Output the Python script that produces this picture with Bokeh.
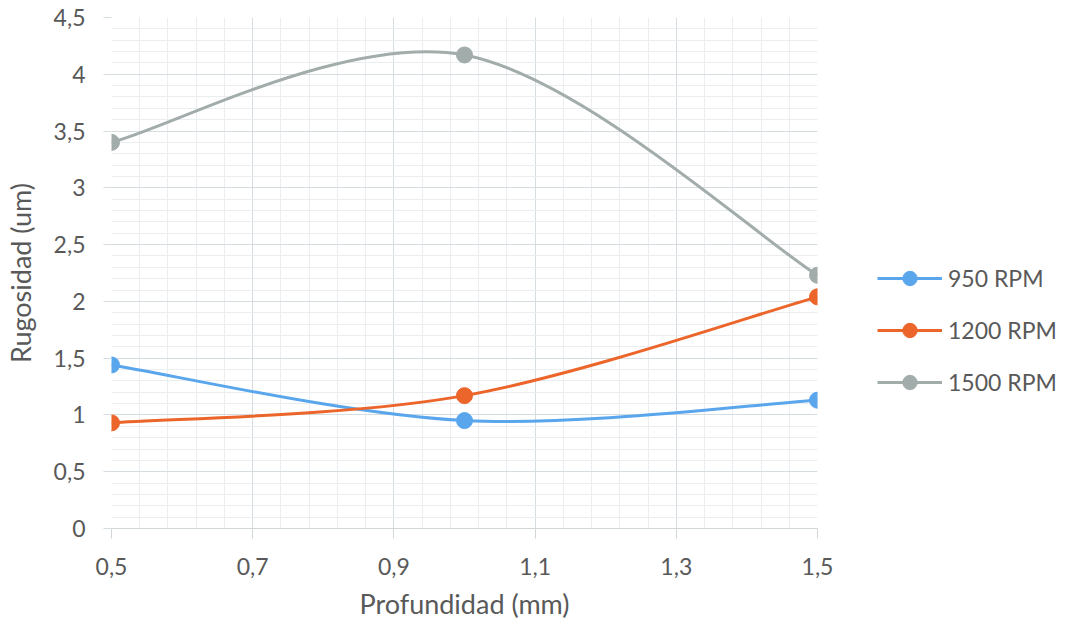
from bokeh.plotting import figure
from bokeh.models import (FixedTicker, SingleIntervalTicker, CustomJSTickFormatter,
                          Legend, LegendItem, ColumnDataSource, Range1d)
from bokeh.embed import file_html
from bokeh.resources import INLINE
import numpy as np

# ---- data ----
profundidad = [0.5, 1.0, 1.5]
series_names = ["950 RPM", "1200 RPM", "1500 RPM"]
rpm_950 = [1.44, 0.95, 1.13]
rpm_1200 = [0.93, 1.17, 2.04]
rpm_1500 = [3.40, 4.17, 2.23]
colors = ["#5aa6ec", "#ec652a", "#a2adab"]
x_ticks = [0.5, 0.7, 0.9, 1.1, 1.3, 1.5]

FONT = "Lato"
TXT = "#595959"

p = figure(frame_width=706, frame_height=511, output_backend="svg", toolbar_location=None,
           x_range=Range1d(0.5, 1.5), y_range=Range1d(0, 4.5),
           min_border_left=111, min_border_right=10, min_border_top=17,
           min_border_bottom=100)
p.outline_line_color = None
p.background_fill_color = "white"

# ticks / grid
minor_x = [t for t in np.round(np.arange(0.5, 1.5001, 0.04), 2) if t not in x_ticks]
p.xaxis.ticker = FixedTicker(ticks=x_ticks, minor_ticks=minor_x)
p.yaxis.ticker = SingleIntervalTicker(interval=0.5, num_minor_ticks=5)
fmt = CustomJSTickFormatter(code="return (Math.round(tick*10)/10).toString().replace('.', ',');")
p.xaxis.formatter = fmt
p.yaxis.formatter = fmt

for g in (p.xgrid, p.ygrid):
    g.grid_line_color = "#d5dde1"
    g.grid_line_width = 1
    g.minor_grid_line_color = "#eaeef1"
    g.minor_grid_line_width = 1

for ax in (p.xaxis, p.yaxis):
    ax.major_label_text_font = FONT
    ax.major_label_text_font_size = "23px"
    ax.major_label_text_color = TXT
    ax.axis_label_text_font = FONT
    ax.axis_label_text_font_size = "27px"
    ax.axis_label_text_color = TXT
    ax.axis_label_text_font_style = "normal"
    ax.minor_tick_line_color = None
    ax.major_tick_in = 0

p.xaxis.axis_label = "Profundidad (mm)"
p.xaxis.axis_line_color = "#d0d5d8"
p.xaxis.major_tick_line_color = "#d0d5d8"
p.xaxis.major_tick_out = 10
p.xaxis.major_label_standoff = 19
p.xaxis.axis_label_standoff = 9

p.yaxis.axis_label = "Rugosidad (um)"
p.yaxis.axis_line_color = None
p.yaxis.major_tick_line_color = "#d5dde1"
p.yaxis.major_tick_out = 8
p.yaxis.major_label_standoff = 18
p.yaxis.axis_label_standoff = 14

# smoothed lines (Catmull-Rom style bezier control points computed from the data)
items = []
for name, ys, col in zip(series_names, [rpm_950, rpm_1200, rpm_1500], colors):
    xs = np.array(profundidad)
    yv = np.array(ys)
    n = len(xs)
    x0, y0, x1, y1, cx0, cy0, cx1, cy1 = [], [], [], [], [], [], [], []
    for i in range(n - 1):
        ip = max(i - 1, 0)
        inn = min(i + 2, n - 1)
        x0.append(xs[i]); y0.append(yv[i])
        x1.append(xs[i + 1]); y1.append(yv[i + 1])
        cx0.append(xs[i] + (xs[i + 1] - xs[ip]) / 6)
        cy0.append(yv[i] + (yv[i + 1] - yv[ip]) / 6)
        cx1.append(xs[i + 1] - (xs[inn] - xs[i]) / 6)
        cy1.append(yv[i + 1] - (yv[inn] - yv[i]) / 6)
    src = ColumnDataSource(dict(x0=x0, y0=y0, x1=x1, y1=y1,
                                cx0=cx0, cy0=cy0, cx1=cx1, cy1=cy1))
    rb = p.bezier(x0="x0", y0="y0", x1="x1", y1="y1", cx0="cx0", cy0="cy0",
                  cx1="cx1", cy1="cy1", source=src, line_color=col, line_width=3)
    rs = p.scatter(profundidad, ys, size=16, fill_color=col, line_color=col)
    items.append(LegendItem(label=name, renderers=[rb, rs]))

legend = Legend(items=items, location=(60, 128), orientation="vertical",
                glyph_width=65, glyph_height=36, label_height=36,
                spacing=16, padding=5, margin=0, label_standoff=6,
                label_text_font=FONT, label_text_font_size="23px",
                label_text_color=TXT, border_line_color=None,
                background_fill_alpha=0)
p.add_layout(legend, "right")

open("out.html", "w").write(file_html(p, INLINE))
